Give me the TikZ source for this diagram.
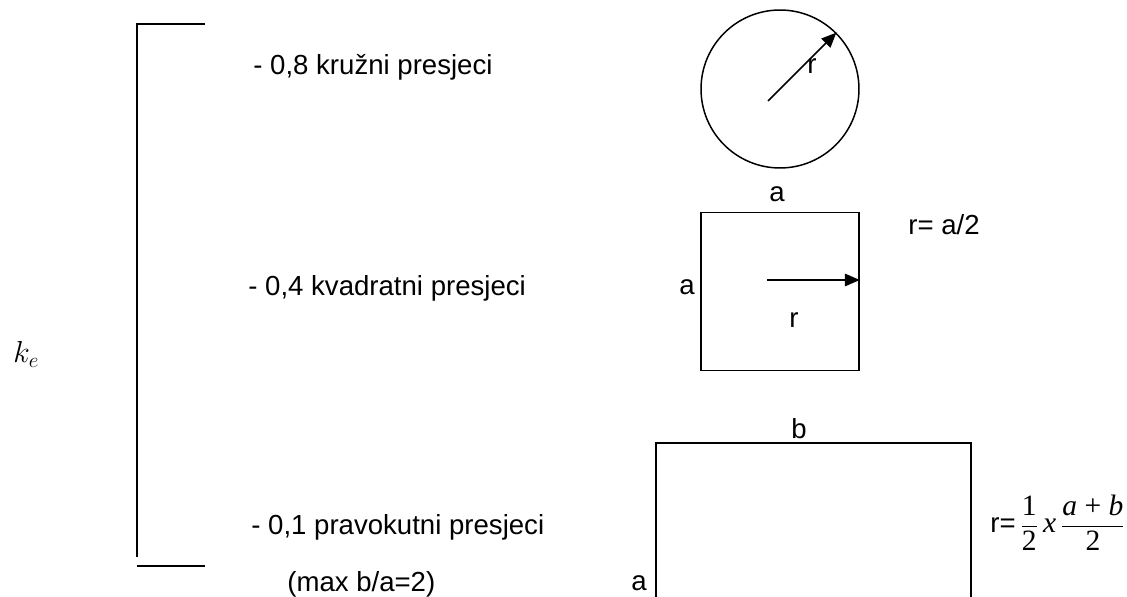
\documentclass[tikz,border=0pt]{standalone}
\usepackage{fontspec}
\setmainfont{Liberation Sans}
\newfontfamily\timesf{Liberation Serif}
\usepackage{tikz}
\usetikzlibrary{arrows.meta}
\usetikzlibrary{positioning}

\tikzset{
  lbl/.style={anchor=base west, inner sep=0pt, font=\fontsize{15.7}{19}\selectfont},
  shapeline/.style={line width=0.85pt},
  rarrow/.style={line width=0.85pt, -{Triangle[length=8.5pt,width=7.2pt]}},
}
\newcommand{\tms}[1]{\hbox{\fontsize{16.8}{20}\selectfont\timesf #1}}

\begin{document}
\begin{tikzpicture}[x=0.02cm, y=-0.02cm]
  \useasboundingbox (0,0) rectangle (1127,597);

  % 括弧
  \draw[shapeline] (205,24) -- (137,24) -- (137,557);
  \draw[shapeline] (137,566) -- (205,566);
  \node[anchor=base west, inner sep=0pt, font=\fontsize{17}{20}\selectfont] (ke) at (13,363) {$k_e$};

  % 係数
  \node[lbl] (t1) at (253,75) {- 0,8 kružni presjeci};
  \node[lbl] (t2) at (248,296) {- 0,4 kvadratni presjeci};
  \node[lbl] (t3) at (251,535) {- 0,1 pravokutni presjeci};
  \node[lbl] (t4) at (287,592) {(max b/a=2)};

  % 円
  \node[draw, shapeline, circle, minimum size=3.16cm, inner sep=0pt] (circ) at (780,89) {};
  \coordinate (cst) at (768,101);
  \draw[rarrow] (cst) -- (circ.45);
  \node[lbl] (cr) at (807,74) {r};

  % 正方形
  \node[draw, shapeline, minimum size=3.16cm, inner sep=0pt] (sq) at (780,291.5) {};
  \node[lbl] (sqa) at (769,201.5) {a};
  \node[lbl] (sqb) at (679,295) {a};
  \coordinate (sst) at (767,280);
  \draw[rarrow] (sst) -- (sst -| sq.east);
  \node[lbl] (sqr) at (789,328) {r};
  \node[lbl] (sqf) at (908,235) {r= a/2};

  % 長方形
  \coordinate (rbl) at (656,597);
  \coordinate (rtl) at (656,443);
  \coordinate (rtr) at (971,443);
  \coordinate (rbr) at (971,597);
  \draw[shapeline] (rbl) -- (rtl) -- (rtr) -- (rbr);
  \node[lbl] (rb) at (791,439) {b};
  \node[lbl] (ra) at (631,591) {a};
  \node[lbl] (rf) at (990,533)
    {r=$\displaystyle\,\frac{\tms{1}}{\tms{2}}\,\tms{\itshape x}\,\frac{\tms{\itshape a \upshape+ \itshape b}}{\tms{2}}$};
\end{tikzpicture}
\end{document}
